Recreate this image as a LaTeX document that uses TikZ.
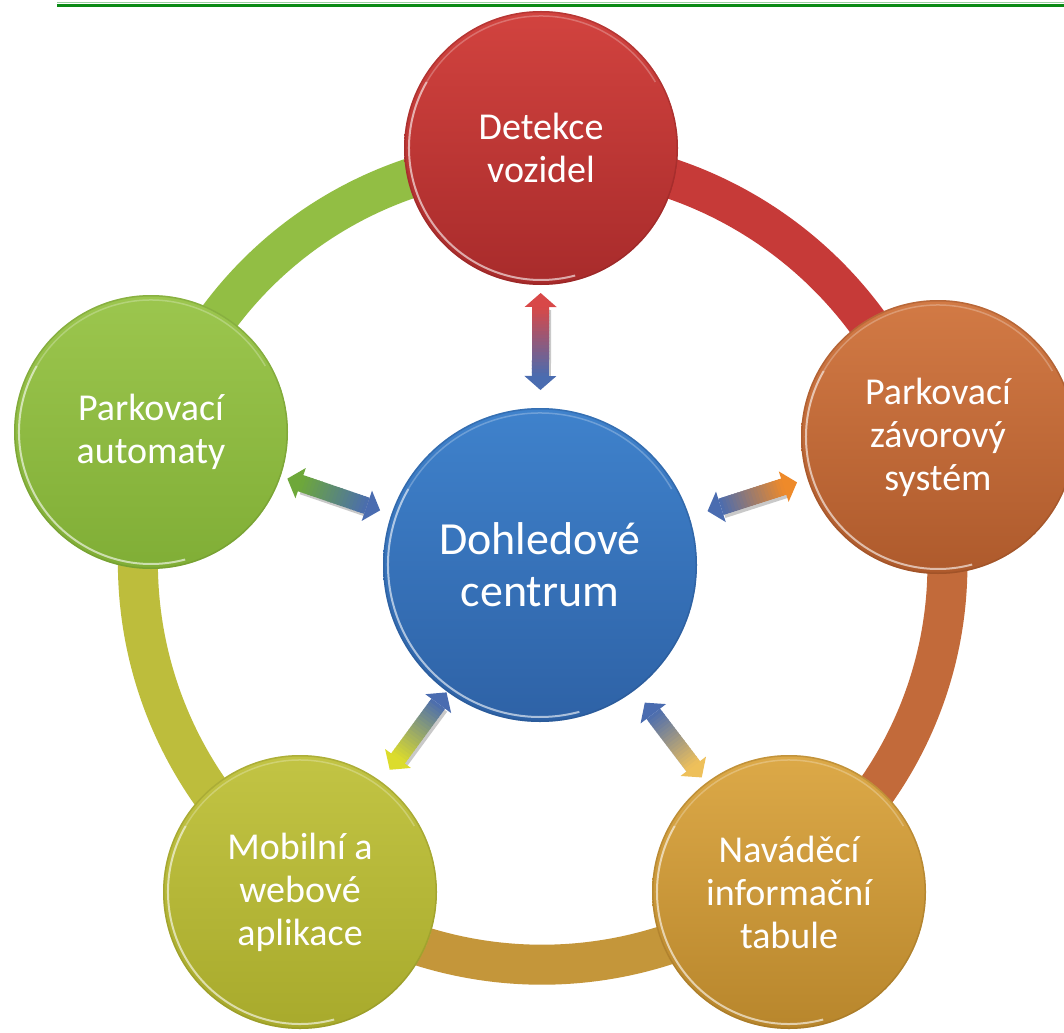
\documentclass[tikz,border=0pt]{standalone}
\usepackage{fontspec}
\setmainfont{Carlito}
\usetikzlibrary{calc}
\definecolor{redA}{HTML}{D2433F}\definecolor{redB}{HTML}{A82B2B}
\definecolor{orgA}{HTML}{D27A45}\definecolor{orgB}{HTML}{AE5A2C}
\definecolor{grnA}{HTML}{9CC64E}\definecolor{grnB}{HTML}{80AE36}
\definecolor{yelA}{HTML}{C2C444}\definecolor{yelB}{HTML}{A8AA2C}
\definecolor{gldA}{HTML}{DCA948}\definecolor{gldB}{HTML}{B8862C}
\definecolor{bluA}{HTML}{3F82CC}\definecolor{bluB}{HTML}{2E62A6}
\definecolor{redBand}{HTML}{C63A38}
\definecolor{orgBand}{HTML}{C26A3A}
\definecolor{gldBand}{HTML}{C4963A}
\definecolor{yelBand}{HTML}{BDBD3C}
\definecolor{grnBand}{HTML}{92BE44}
\definecolor{arBlue}{HTML}{4A6CB0}
\definecolor{arRed}{HTML}{D84848}
\definecolor{arGrn}{HTML}{6EA83A}
\definecolor{arOrg}{HTML}{EE8A2A}
\definecolor{arYel}{HTML}{DCDC2C}
\definecolor{arGld}{HTML}{EEC05A}
\definecolor{topline}{HTML}{0A8A14}
\tikzset{
  ball/.style n args={3}{circle, minimum size=#1, inner sep=0pt, text=white,
    align=center, top color=#2, bottom color=#3,
    path picture={
      \draw[white, opacity=0.6, line width=2pt]
        ($(path picture bounding box.center)+(150:#1/2-5pt)$)
        arc[start angle=150, end angle=285, radius=#1/2-5pt];
      \draw[white, opacity=0.25, line width=1.5pt]
        ($(path picture bounding box.center)+(30:#1/2-5pt)$)
        arc[start angle=30, end angle=150, radius=#1/2-5pt];
      \draw[#3!80!black, opacity=0.35, line width=2pt]
        (path picture bounding box.center) circle[radius=#1/2-0.5pt];}},
  outertext/.style={font=\fontsize{38}{43}\selectfont},
  centertext/.style={font=\fontsize{46}{52}\selectfont},
  band/.style={line width=40pt, bend left=36, looseness=0.95}
}
\newcommand\gradarrow[6]{%
  \coordinate (ga-a) at ($(#1)!#3pt!(#2)$);
  \coordinate (ga-b) at ($(#1)!#4pt!(#2)$);
  \coordinate (ga-ah) at ($(ga-a)!14pt!(ga-b)$);
  \coordinate (ga-bh) at ($(ga-b)!14pt!(ga-a)$);
  \draw[line width=17pt, black!35, opacity=0.6] ([shift={(2,-3)}]ga-ah) -- ([shift={(2,-3)}]ga-bh);
  \foreach \i in {0,...,19}{%
    \pgfmathsetmacro\pa{\i/20}%
    \pgfmathsetmacro\pb{(\i+1.3)/20}%
    \pgfmathtruncatemacro\mixv{100-(\i+0.5)*5}%
    \draw[line width=17pt, color=#5!\mixv!#6] ($(ga-ah)!\pa!(ga-bh)$) -- ($(ga-ah)!\pb!(ga-bh)$);}
  \fill[#5] (ga-a) -- ($(ga-ah)!16pt!90:(ga-a)$) -- ($(ga-ah)!16pt!-90:(ga-a)$) -- cycle;
  \fill[#6] (ga-b) -- ($(ga-bh)!16pt!90:(ga-b)$) -- ($(ga-bh)!16pt!-90:(ga-b)$) -- cycle;
}
\begin{document}
\begin{tikzpicture}[x=1pt,y=1pt]
\useasboundingbox (0,0) rectangle (1064,-1032);
\clip (0,0) rectangle (1064,-1032);
\fill[white] (0,0) rectangle (1064,-1032);
% top rule
\draw[topline!40!white, line width=1pt] (57,-2.5) -- (1064,-2.5);
\draw[topline, line width=3pt] (57,-5.4) -- (1064,-5.4);
% node positions
\coordinate (tp) at (541,-148);
\coordinate (rp) at (938,-437);
\coordinate (brp) at (789,-892);
\coordinate (blp) at (300,-892);
\coordinate (lp) at (151,-432);
\coordinate (cp) at (540,-565);
% ring band anchors (slightly inside of node centres)
\coordinate (tb) at ($(tp)!9pt!(cp)$);
\coordinate (rb) at ($(rp)!11pt!(cp)$);
\coordinate (brb) at ($(brp)!9pt!(cp)$);
\coordinate (blb) at ($(blp)!6pt!(cp)$);
\coordinate (lb) at ($(lp)!8pt!(cp)$);
% ring band segments
\draw[band, redBand] (tb) to (rb);
\draw[band, orgBand] (rb) to (brb);
\draw[band, gldBand] (brb) to (blb);
\draw[band, yelBand] (blb) to (lb);
\draw[band, grnBand] (lb) to (tb);
% nodes
\node[ball={274pt}{redA}{redB}, outertext] (t) at (tp) {Detekce\\vozidel};
\node[ball={274pt}{orgA}{orgB}, outertext] (r) at (rp) {Parkovací\\závorový\\systém};
\node[ball={274pt}{gldA}{gldB}, outertext] (br) at (brp) {Naváděcí\\informační\\tabule};
\node[ball={274pt}{yelA}{yelB}, outertext] (bl) at (blp) {Mobilní a\\webové\\aplikace};
\node[ball={274pt}{grnA}{grnB}, outertext] (l) at (lp) {Parkovací\\automaty};
\node[ball={314pt}{bluA}{bluB}, centertext] (c) at (cp) {Dohledové\\centrum};
% double arrows
\gradarrow{c}{t}{175}{272}{arBlue}{arRed}
\gradarrow{c}{l}{169}{267}{arBlue}{arGrn}
\gradarrow{c}{r}{176}{270}{arBlue}{arOrg}
\gradarrow{c}{bl}{158}{254}{arBlue}{arYel}
\gradarrow{c}{br}{173}{267}{arBlue}{arGld}
\end{tikzpicture}
\end{document}
